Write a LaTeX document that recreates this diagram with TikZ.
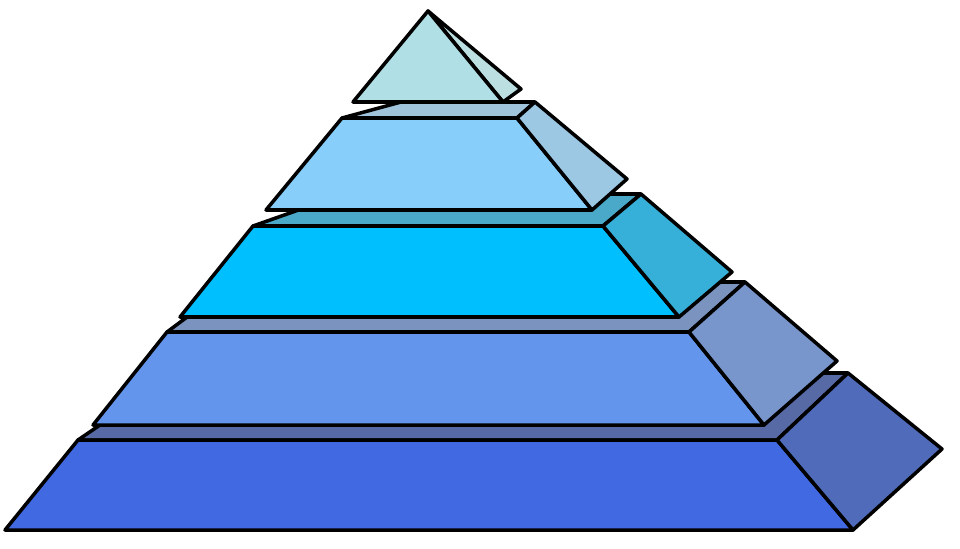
\documentclass[tikz,border=0pt]{standalone}

\definecolor{afront}{HTML}{4169E1}
\definecolor{aside}{HTML}{4F6BB9}
\definecolor{atop}{HTML}{586AA5}
\definecolor{bfront}{HTML}{6495ED}
\definecolor{bside}{HTML}{7896CC}
\definecolor{btop}{HTML}{7B93BF}
\definecolor{cfront}{HTML}{00BFFF}
\definecolor{cside}{HTML}{36B0D8}
\definecolor{ctop}{HTML}{4AA8C8}
\definecolor{dfront}{HTML}{87CEFA}
\definecolor{dside}{HTML}{9CC8E4}
\definecolor{dtop}{HTML}{9FC4DC}
\definecolor{efront}{HTML}{B0E0E6}
\definecolor{eside}{HTML}{BCE0E2}

\tikzstyle{face}=[draw=black, line width=2pt, line join=round]

\begin{document}
\begin{tikzpicture}[x=0.02cm, y=-0.02cm]
	    \useasboundingbox (0,0) rectangle (960,548);
	    % tiers a (bottom) to d, then the cap
	    \foreach \pos/\pname in {{(5,530)/afbl}, {(853,530)/afbr}, {(777,440)/aftr}, {(78,440)/aftl}, {(942,449)/asbr}, {(848,373)/abtr}, {(176,373)/abtl}}
	        \node[coordinate] (\pname) at \pos {};
	    \foreach \pos/\pname in {{(93,425)/bfbl}, {(764,425)/bfbr}, {(689,332)/bftr}, {(167,332)/bftl}, {(837,361)/bsbr}, {(745,282)/bbtr}, {(234,282)/bbtl}}
	        \node[coordinate] (\pname) at \pos {};
	    \foreach \pos/\pname in {{(180,317)/cfbl}, {(679,317)/cfbr}, {(603,226)/cftr}, {(253,226)/cftl}, {(732,272)/csbr}, {(641,194)/cbtr}, {(344,194)/cbtl}}
	        \node[coordinate] (\pname) at \pos {};
	    \foreach \pos/\pname in {{(266,210)/dfbl}, {(592,210)/dfbr}, {(517,118)/dftr}, {(342,118)/dftl}, {(627,179)/dsbr}, {(535,102)/dbtr}, {(401,102)/dbtl}}
	        \node[coordinate] (\pname) at \pos {};
	    \foreach \pos/\pname in {{(428,11)/capapex}, {(353,102)/capbl}, {(503,102)/capbr}, {(521,89)/capback}}
	        \node[coordinate] (\pname) at \pos {};
	    \foreach \tier in {a, b, c, d} {
			\path[face, fill=\tier top] (\tier ftl) -- (\tier ftr) -- (\tier btr) -- (\tier btl) -- cycle;
			\path[face, fill=\tier front] (\tier fbl) -- (\tier fbr) -- (\tier ftr) -- (\tier ftl) -- cycle;
			\path[face, fill=\tier side] (\tier fbr) -- (\tier sbr) -- (\tier btr) -- (\tier ftr) -- cycle;
	    }
		\path[face, fill=eside] (capapex) -- (capback) -- (capbr) -- cycle;
		\path[face, fill=efront] (capbl) -- (capbr) -- (capapex) -- cycle;
	\end{tikzpicture}
\end{document}
